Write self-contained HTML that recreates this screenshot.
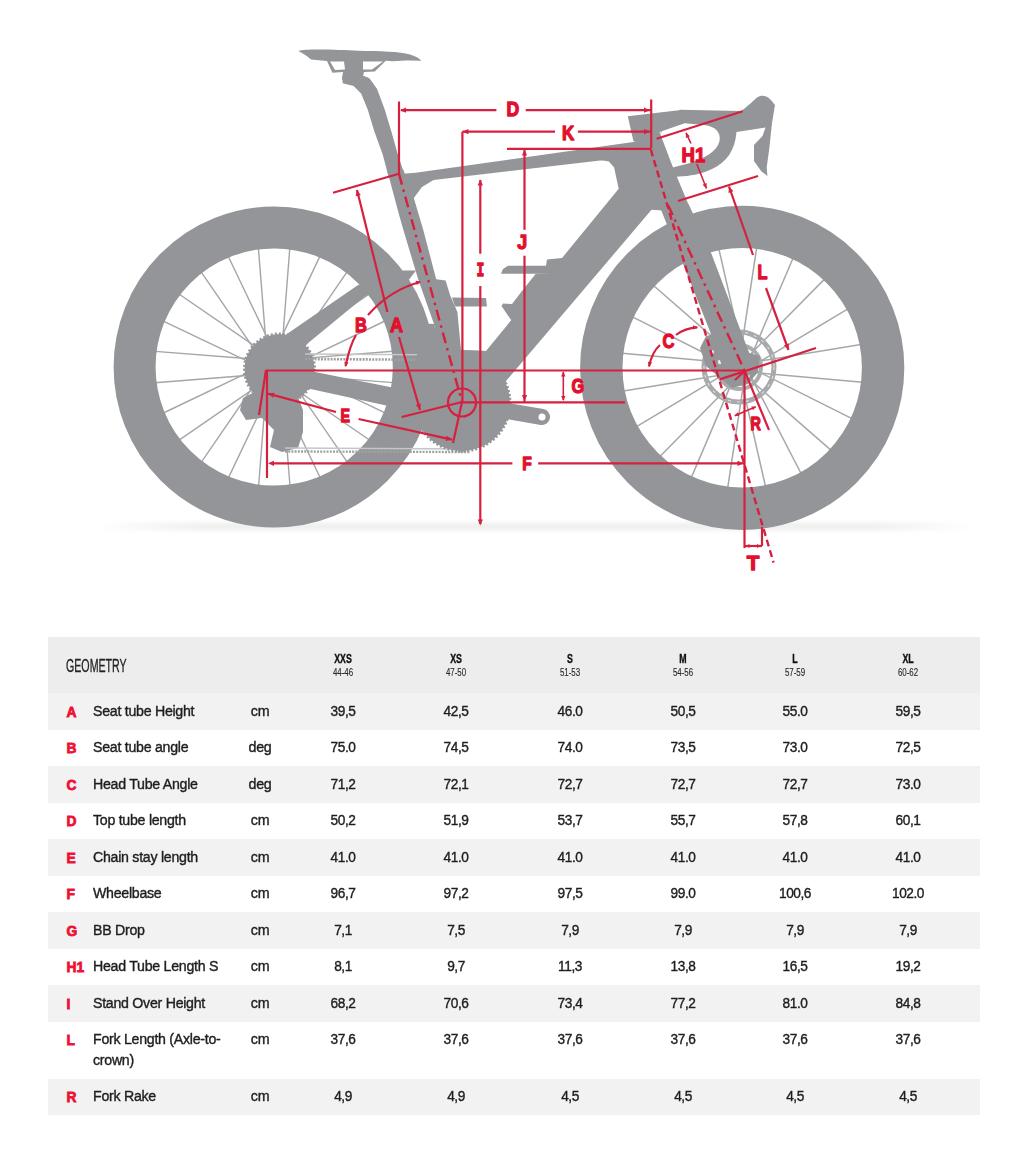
<!DOCTYPE html>
<html><head><meta charset="utf-8"><style>
html,body{margin:0;padding:0;background:#fff;width:1023px;height:1167px;overflow:hidden;position:relative}

.bg{position:absolute;left:48px;width:932.4px}
.geo{position:absolute;font:18.5px/20px "Liberation Sans",sans-serif;color:#222;transform:scaleX(0.575);transform-origin:0 0;white-space:nowrap;-webkit-text-stroke:0.3px #222}
.sz{position:absolute;width:100px;text-align:center;font:bold 13.5px/14px "Liberation Sans",sans-serif;color:#111;transform:scaleX(0.65);-webkit-text-stroke:0.4px #111}
.rg{position:absolute;width:100px;text-align:center;font:11.3px/12px "Liberation Sans",sans-serif;color:#2a2a2a;transform:scaleX(0.7);-webkit-text-stroke:0.15px #2a2a2a}
.ltr{position:absolute;left:66.5px;font:bold 13.8px/20px "Liberation Sans",sans-serif;color:#ee1133;-webkit-text-stroke:0.8px #ee1133}
.nm{position:absolute;left:93px;font:15.5px/21px "Liberation Sans",sans-serif;color:#1e1e1e;letter-spacing:-0.3px;white-space:nowrap;-webkit-text-stroke:0.4px #1e1e1e;transform:scaleX(0.915);transform-origin:0 0}
.un{position:absolute;left:209.5px;width:100px;text-align:center;font:15.5px/21px "Liberation Sans",sans-serif;color:#1e1e1e;letter-spacing:-0.3px;-webkit-text-stroke:0.4px #1e1e1e;transform:scaleX(0.92)}
.val{position:absolute;width:100px;text-align:center;font:15.2px/21px "Liberation Sans",sans-serif;color:#1e1e1e;letter-spacing:-0.5px;-webkit-text-stroke:0.4px #1e1e1e;transform:scaleX(0.9)}

</style></head><body>
<svg width="1023" height="620" viewBox="0 0 1023 620" style="position:absolute;left:0;top:0">
<defs><linearGradient id="gs" x1="0" x2="1"><stop offset="0" stop-color="#fff"/><stop offset="0.12" stop-color="#ededed"/><stop offset="0.88" stop-color="#ededed"/><stop offset="1" stop-color="#fff"/></linearGradient></defs>
<filter id="bl" x="-0.1" y="-2" width="1.2" height="5"><feGaussianBlur stdDeviation="2.5"/></filter>
<rect x="95" y="523" width="880" height="7" fill="url(#gs)" filter="url(#bl)"/>
<g stroke="#a3a5a8" stroke-width="1.4"><line x1="283.9" y1="374.1" x2="393.2" y2="382.6"/><line x1="286.1" y1="365.7" x2="385.1" y2="412.8"/><line x1="279.1" y1="378.0" x2="369.5" y2="440.0"/><line x1="285.2" y1="371.8" x2="347.3" y2="462.1"/><line x1="272.9" y1="378.9" x2="320.2" y2="477.8"/><line x1="281.3" y1="376.7" x2="290.0" y2="486.0"/><line x1="267.1" y1="376.7" x2="258.6" y2="486.0"/><line x1="275.5" y1="378.9" x2="228.4" y2="477.9"/><line x1="263.2" y1="371.9" x2="201.2" y2="462.3"/><line x1="269.4" y1="378.0" x2="179.1" y2="440.1"/><line x1="262.3" y1="365.7" x2="163.4" y2="413.0"/><line x1="264.5" y1="374.1" x2="155.2" y2="382.8"/><line x1="264.5" y1="359.9" x2="155.2" y2="351.4"/><line x1="262.3" y1="368.3" x2="163.3" y2="321.2"/><line x1="269.3" y1="356.0" x2="178.9" y2="294.0"/><line x1="263.2" y1="362.2" x2="201.1" y2="271.9"/><line x1="275.5" y1="355.1" x2="228.2" y2="256.2"/><line x1="267.1" y1="357.3" x2="258.4" y2="248.0"/><line x1="281.3" y1="357.3" x2="289.8" y2="248.0"/><line x1="272.9" y1="355.1" x2="320.0" y2="256.1"/><line x1="285.2" y1="362.1" x2="347.2" y2="271.7"/><line x1="279.0" y1="356.0" x2="369.3" y2="293.9"/><line x1="286.1" y1="368.3" x2="385.0" y2="321.0"/><line x1="283.9" y1="359.9" x2="393.2" y2="351.2"/></g>
<g stroke="#a5a7a9" stroke-width="1.5"><line x1="751.1" y1="372.3" x2="862.3" y2="382.3"/><line x1="752.2" y1="368.6" x2="852.0" y2="418.7"/><line x1="746.8" y1="376.7" x2="830.9" y2="450.1"/><line x1="749.8" y1="374.3" x2="801.1" y2="473.5"/><line x1="740.6" y1="377.7" x2="765.5" y2="486.5"/><line x1="744.5" y1="377.5" x2="727.7" y2="487.9"/><line x1="735.1" y1="374.9" x2="691.3" y2="477.6"/><line x1="738.3" y1="377.0" x2="659.9" y2="456.5"/><line x1="732.3" y1="369.4" x2="636.5" y2="426.7"/><line x1="733.6" y1="373.0" x2="623.5" y2="391.1"/><line x1="733.3" y1="363.3" x2="622.1" y2="353.3"/><line x1="732.2" y1="367.0" x2="632.4" y2="316.9"/><line x1="737.6" y1="358.9" x2="653.5" y2="285.5"/><line x1="734.6" y1="361.3" x2="683.3" y2="262.1"/><line x1="743.8" y1="357.9" x2="718.9" y2="249.1"/><line x1="739.9" y1="358.1" x2="756.7" y2="247.7"/><line x1="749.3" y1="360.7" x2="793.1" y2="258.0"/><line x1="746.1" y1="358.6" x2="824.5" y2="279.1"/><line x1="752.1" y1="366.2" x2="847.9" y2="308.9"/><line x1="750.8" y1="362.6" x2="860.9" y2="344.5"/></g>
<circle cx="274.2" cy="367.0" r="139.6" fill="none" stroke="#939598" stroke-width="42"/>
<circle cx="742.2" cy="367.8" r="140.9" fill="none" stroke="#939598" stroke-width="42.4"/>
<circle cx="739" cy="367" r="35" fill="none" stroke="#a7a9ab" stroke-width="5"/>
<circle cx="739" cy="367" r="35" fill="none" stroke="#fff" stroke-width="1.2" stroke-dasharray="3,6" opacity="0.6"/>
<circle cx="739" cy="367" r="22" fill="none" stroke="#a9abad" stroke-width="4"/>
<polygon fill="#939598" points="700.0,348.0 706.0,336.0 716.0,334.0 728.0,345.0 745.0,352.0 760.0,356.0 758.0,372.0 748.0,384.0 732.0,388.0 720.0,378.0 706.0,366.0"/>
<g fill="#fff" opacity="0.85"><circle cx="712" cy="352" r="2"/><circle cx="720" cy="362" r="2.2"/><circle cx="716" cy="343" r="1.5"/><circle cx="748" cy="376" r="1.8"/></g/>
<circle cx="279.5" cy="369" r="35" fill="#939598" stroke="#939598" stroke-width="3" stroke-dasharray="2,2"/>
<polygon fill="#939598" points="243.0,398.0 262.0,388.0 296.0,392.0 303.0,410.0 303.0,432.0 298.0,448.0 282.0,452.0 270.0,447.0 274.0,430.0 262.0,418.0 246.0,420.0 240.0,410.0"/>
<line x1="305" y1="354" x2="455" y2="355" stroke="#c4c6c8" stroke-width="1.6"/>
<line x1="305" y1="359" x2="455" y2="360" stroke="#9fa1a3" stroke-width="2.6" stroke-dasharray="2,1.2"/>
<line x1="285" y1="448" x2="470" y2="449" stroke="#c4c6c8" stroke-width="1.4"/>
<line x1="285" y1="451.5" x2="470" y2="452" stroke="#9fa1a3" stroke-width="2.4" stroke-dasharray="2,1.2"/>
<circle cx="462" cy="403" r="48" fill="#939598" stroke="#939598" stroke-width="3" stroke-dasharray="2,2"/>
<line x1="462" y1="403" x2="542" y2="417" stroke="#939598" stroke-width="16" stroke-linecap="round"/>
<circle cx="542" cy="417" r="3.5" fill="#fff"/>
<polygon fill="#939598" points="279.0,362.0 308.8,370.7 400.0,389.0 462.0,392.0 462.0,414.0 400.0,408.6 299.0,386.6 278.0,380.0"/>
<polygon fill="#939598" points="280.0,345.0 286.9,334.0 357.7,285.2 401.0,270.5 416.0,270.5 409.3,279.3 380.0,290.0 365.0,296.2 308.8,342.6 290.0,362.0"/>
<polygon fill="#939598" points="429.0,323.8 434.0,324.0 445.0,390.0 420.0,400.0 415.0,360.0"/>
<path fill="#939598" d="M298.5,51 C305,48.5 340,50 358,50.7 C380,51 400,51.5 410,54.5 C416,56.5 420,58.5 421.4,60.8 L410,60.5 C402,60.5 395,61.8 385.8,60.8 L374.8,71.5 L364,72 L363,76 L369.4,78.3 L345,84 L342,79 L343,72 L332.4,72.8 L327,61 L311,59.5 C308,57 306,55 298.5,51 Z"/>
<polygon fill="#fff" points="330.0,61.5 344.0,61.5 345.0,69.5 335.0,70.0"/>
<polygon fill="#fff" points="363.0,61.5 383.0,61.5 372.0,69.5 363.0,69.5"/>
<polygon fill="#939598" points="342.3,76.0 344.0,74.7 361.0,74.7 369.6,78.5 377.1,88.9 384.7,109.6 391.3,131.3 397.9,154.8 403.0,170.0 404.0,176.0 388.4,176.0 382.8,154.8 374.3,131.3 367.7,109.6 361.1,93.6 353.6,86.0 342.7,83.2"/>
<polygon fill="#939598" points="386.8,169.0 403.0,169.0 413.8,198.0 423.3,230.0 436.2,279.3 445.6,280.4 450.3,295.7 457.4,312.0 461.0,350.0 486.0,351.0 506.0,381.0 500.0,425.0 462.0,430.0 430.0,415.0 440.0,380.0 434.0,324.0 418.6,280.4 415.0,268.7 403.4,230.0 399.4,216.0"/>
<polygon fill="#939598" points="403.0,173.7 415.6,172.8 635.0,141.7 645.0,141.0 645.0,163.0 604.6,159.9 433.6,180.0 422.0,187.0 413.8,198.0 398.0,190.0"/>
<polygon fill="#939598" points="600.0,159.9 609.0,161.5 614.0,167.0 618.7,188.7 486.0,351.0 460.0,350.0 462.0,402.0 506.0,381.0 651.5,209.8 662.0,200.0 640.0,150.0"/>
<path fill="#939598" d="M680,109.8 L741,111 C746,108 752,102 757,97.5 C763,93.5 769,96 775,105 L772,123 L769.3,148.5 L766.7,167.6 L767.4,176 L761.5,171.4 L754,161 L754,145 L762.5,136 L765.5,127.5 L736.5,132 C735,150 727,162 712,169 C700,174.5 690,176 679,176.5 L665,178 L660,125 Z"/>
<path fill="#fff" d="M681.6,123 L704,125 C716,126.5 721,133 719.5,141 C717.5,151 705,158 690,163 L672.7,167.6 L660,138 L662.5,127 Z"/>
<polygon fill="#939598" points="627.8,116.2 681.0,110.0 684.0,123.5 659.5,132.0 672.6,166.4 692.0,213.0 656.0,210.0 651.5,209.8 614.0,167.0 609.0,161.5 635.0,141.7 633.4,141.0"/>
<polygon fill="#939598" points="657.0,200.0 688.5,204.0 710.0,250.0 741.0,331.4 752.0,360.0 748.0,378.0 722.0,366.0 710.0,331.4 684.0,266.3"/>
<polygon fill="#939598" points="501.0,273.8 503.0,269.0 508.0,265.8 546.0,265.8 547.0,259.5 562.0,258.0 563.0,270.0 548.0,273.8"/>
<polygon fill="#939598" points="452.0,297.6 486.0,298.0 487.0,306.5 455.0,306.5"/>
<polygon fill="#939598" points="551.0,273.0 535.6,274.0 522.0,291.0 512.0,304.0 503.0,303.5 501.5,306.0 511.0,320.0 516.0,318.0"/>
<g stroke="#d6203f" fill="none" stroke-linecap="butt"><line x1="399" y1="101.5" x2="399" y2="174" stroke-width="2.2"/><line x1="651.2" y1="99.5" x2="651.2" y2="148.5" stroke-width="2.2"/><line x1="401" y1="110.2" x2="496.4" y2="110.2" stroke-width="2.2"/><line x1="525.7" y1="110.2" x2="651" y2="110.2" stroke-width="2.2"/><line x1="462.4" y1="131.7" x2="555" y2="131.7" stroke-width="2.2"/><line x1="578" y1="131.7" x2="651" y2="131.7" stroke-width="2.2"/><line x1="462.4" y1="131.7" x2="462.4" y2="402" stroke-width="2.2"/><line x1="507" y1="148.8" x2="651" y2="148.8" stroke-width="2.2"/><line x1="524.5" y1="148.8" x2="524.5" y2="229.8" stroke-width="2.2"/><line x1="524.5" y1="255.7" x2="524.5" y2="402" stroke-width="2.2"/><line x1="480.3" y1="180" x2="480.3" y2="253.7" stroke-width="2.2"/><line x1="480.3" y1="286" x2="480.3" y2="524" stroke-width="2.2"/><line x1="333" y1="192.8" x2="399" y2="173.7" stroke-width="2.2"/><line x1="357" y1="190" x2="387.4" y2="312" stroke-width="2.2"/><line x1="399" y1="337" x2="420" y2="410" stroke-width="2.2"/><line x1="401.7" y1="417" x2="462" y2="402" stroke-width="2.2"/><line x1="266" y1="370.5" x2="745" y2="370.5" stroke-width="2.2"/><line x1="462" y1="402.3" x2="625" y2="402.3" stroke-width="2.2"/><line x1="563.3" y1="372" x2="563.3" y2="400" stroke-width="1.6"/><line x1="267" y1="370" x2="267" y2="478" stroke-width="2.2"/><line x1="272" y1="463.3" x2="512.4" y2="463.3" stroke-width="2.2"/><line x1="538.2" y1="463.3" x2="744" y2="463.3" stroke-width="2.2"/><line x1="744.5" y1="371" x2="744.5" y2="548" stroke-width="2.2"/><line x1="744" y1="546" x2="762" y2="546" stroke-width="2.2"/><line x1="762" y1="527" x2="762" y2="546" stroke-width="2.2"/><line x1="268" y1="393.6" x2="336" y2="412" stroke-width="2.2"/><line x1="358.6" y1="419" x2="452" y2="439.6" stroke-width="2.2"/><line x1="266" y1="370" x2="259" y2="415" stroke-width="2.2"/><line x1="462" y1="402" x2="453" y2="443" stroke-width="2.2"/><line x1="399" y1="174" x2="462" y2="402" stroke-width="2.4" stroke-dasharray="11,5,2.5,5"/><line x1="650.8" y1="149.6" x2="773.6" y2="562.7" stroke-width="2.4" stroke-dasharray="7,4"/><line x1="668" y1="205" x2="744.7" y2="371" stroke-width="2.4" stroke-dasharray="11,5,2.5,5"/><line x1="656.7" y1="138.7" x2="742.7" y2="111.3" stroke-width="2.2"/><line x1="686" y1="132.8" x2="691" y2="143.5" stroke-width="1.6"/><line x1="696.8" y1="164" x2="706.5" y2="188.5" stroke-width="1.6"/><line x1="678" y1="201" x2="758" y2="176" stroke-width="2.2"/><line x1="729" y1="186.5" x2="753" y2="255" stroke-width="2.2"/><line x1="766" y1="288" x2="788.5" y2="350" stroke-width="2.2"/><line x1="719.7" y1="379.4" x2="816" y2="348" stroke-width="2.2"/><line x1="744.7" y1="371" x2="769" y2="430" stroke-width="2.2"/><line x1="734.7" y1="415.7" x2="755.8" y2="406.8" stroke-width="1.6"/><line x1="735" y1="380" x2="744.7" y2="371" stroke-width="2.2"/></g>
<polygon fill="#d6203f" points="400.0,110.2 406.0,107.6 406.0,112.8"/><polygon fill="#d6203f" points="650.0,110.2 644.0,112.8 644.0,107.6"/><polygon fill="#d6203f" points="462.4,131.7 468.4,129.1 468.4,134.3"/><polygon fill="#d6203f" points="650.0,131.7 644.0,134.3 644.0,129.1"/><polygon fill="#d6203f" points="524.5,149.5 527.1,155.5 521.9,155.5"/><polygon fill="#d6203f" points="524.5,401.0 521.9,395.0 527.1,395.0"/><polygon fill="#d6203f" points="480.3,179.5 482.9,185.5 477.7,185.5"/><polygon fill="#d6203f" points="480.3,525.5 477.7,519.5 482.9,519.5"/><polygon fill="#d6203f" points="356.8,189.8 360.8,195.0 355.7,196.3"/><polygon fill="#d6203f" points="420.0,410.0 415.9,404.9 420.9,403.5"/><polygon fill="#d6203f" points="563.3,371.5 565.5,376.5 561.1,376.5"/><polygon fill="#d6203f" points="563.3,401.0 561.1,396.0 565.5,396.0"/><polygon fill="#d6203f" points="268.0,463.3 274.0,460.7 274.0,465.9"/><polygon fill="#d6203f" points="743.5,463.3 737.5,465.9 737.5,460.7"/><polygon fill="#d6203f" points="745.5,546.0 749.5,544.0 749.5,548.0"/><polygon fill="#d6203f" points="761.0,546.0 757.0,548.0 757.0,544.0"/><polygon fill="#d6203f" points="268.0,393.6 274.5,392.7 273.1,397.7"/><polygon fill="#d6203f" points="452.0,439.6 445.6,440.9 446.7,435.8"/><polygon fill="#d6203f" points="686.0,132.5 689.9,136.3 685.8,138.0"/><polygon fill="#d6203f" points="706.5,188.5 702.6,184.7 706.7,183.0"/><polygon fill="#d6203f" points="729.0,186.5 733.4,191.3 728.5,193.0"/><polygon fill="#d6203f" points="788.5,350.0 784.0,345.2 788.9,343.5"/><polygon fill="#d6203f" points="734.7,415.7 737.6,412.3 739.2,416.0"/><polygon fill="#d6203f" points="755.8,406.8 752.9,410.2 751.3,406.5"/>
<path d="M345.5,366 Q350,345 356,335" stroke="#d6203f" stroke-width="2.2" fill="none"/>
<path d="M368,315 Q390,290 420,282" stroke="#d6203f" stroke-width="2.2" fill="none"/>
<polygon fill="#d6203f" points="345.5,367.0 344.3,361.7 348.6,362.5"/>
<polygon fill="#d6203f" points="421.0,281.5 416.8,285.0 415.6,280.8"/>
<path d="M649,366.5 Q652,352 660,345" stroke="#d6203f" stroke-width="2.2" fill="none"/>
<path d="M676,335 Q685,328 697.4,327.4" stroke="#d6203f" stroke-width="2.2" fill="none"/>
<polygon fill="#d6203f" points="649.0,367.0 647.8,361.7 652.1,362.5"/>
<polygon fill="#d6203f" points="698.0,327.4 693.0,329.6 693.0,325.2"/>
<circle cx="462" cy="402.5" r="14" fill="none" stroke="#d6203f" stroke-width="2.2"/>
<g fill="#e2102e" stroke="#e2102e" stroke-width="1.3" stroke-linejoin="round" font-weight="bold"><text x="506.6" y="116.0" font-size="19.9" font-family="Liberation Sans" textLength="12.7" lengthAdjust="spacingAndGlyphs">D</text><text x="561.9" y="139.5" font-size="19.9" font-family="Liberation Sans" textLength="12.2" lengthAdjust="spacingAndGlyphs">K</text><text x="517.2" y="248.8" font-size="19.8" font-family="Liberation Sans" textLength="9.9" lengthAdjust="spacingAndGlyphs">J</text><text x="476.6" y="275.7" font-size="20.6" font-family="Liberation Mono" textLength="7.8" lengthAdjust="spacingAndGlyphs">I</text><text x="390.1" y="332.3" font-size="20.8" font-family="Liberation Sans" textLength="13.1" lengthAdjust="spacingAndGlyphs">A</text><text x="354.9" y="332.3" font-size="20.8" font-family="Liberation Sans" textLength="11.9" lengthAdjust="spacingAndGlyphs">B</text><text x="340.5" y="421.8" font-size="19.0" font-family="Liberation Sans" textLength="9.5" lengthAdjust="spacingAndGlyphs">E</text><text x="522.3" y="469.9" font-size="19.0" font-family="Liberation Sans" textLength="9.5" lengthAdjust="spacingAndGlyphs">F</text><text x="571.5" y="393.2" font-size="20.5" font-family="Liberation Sans" textLength="12.7" lengthAdjust="spacingAndGlyphs">G</text><text x="681.5" y="162.0" font-size="20.6" font-family="Liberation Sans" textLength="23.7" lengthAdjust="spacingAndGlyphs">H1</text><text x="757.5" y="278.5" font-size="20.3" font-family="Liberation Sans" textLength="10.0" lengthAdjust="spacingAndGlyphs">L</text><text x="662.5" y="347.5" font-size="20.3" font-family="Liberation Sans" textLength="12.0" lengthAdjust="spacingAndGlyphs">C</text><text x="750.5" y="430.0" font-size="18.2" font-family="Liberation Sans" textLength="10.4" lengthAdjust="spacingAndGlyphs">R</text><text x="746.8" y="569.5" font-size="20.9" font-family="Liberation Sans" textLength="12.6" lengthAdjust="spacingAndGlyphs">T</text></g>
</svg>
<div class="bg" style="top:636.6px;height:56.4px;background:#ededed"></div>
<div class="bg" style="top:693.0px;height:36.5px;background:#f2f2f2"></div>
<div class="bg" style="top:766.0px;height:36.5px;background:#f2f2f2"></div>
<div class="bg" style="top:839.0px;height:36.5px;background:#f2f2f2"></div>
<div class="bg" style="top:912.0px;height:36.5px;background:#f2f2f2"></div>
<div class="bg" style="top:985.0px;height:36.5px;background:#f2f2f2"></div>
<div class="bg" style="top:1078.5px;height:36.5px;background:#f2f2f2"></div>
<div class="geo" style="left:66px;top:656px">GEOMETRY</div>
<div class="sz" style="left:293.4px;top:652px">XXS</div>
<div class="rg" style="left:293.4px;top:666px">44-46</div>
<div class="sz" style="left:406.2px;top:652px">XS</div>
<div class="rg" style="left:406.2px;top:666px">47-50</div>
<div class="sz" style="left:519.5px;top:652px">S</div>
<div class="rg" style="left:519.5px;top:666px">51-53</div>
<div class="sz" style="left:632.5px;top:652px">M</div>
<div class="rg" style="left:632.5px;top:666px">54-56</div>
<div class="sz" style="left:745.4px;top:652px">L</div>
<div class="rg" style="left:745.4px;top:666px">57-59</div>
<div class="sz" style="left:858.4px;top:652px">XL</div>
<div class="rg" style="left:858.4px;top:666px">60-62</div>
<div class="ltr" style="top:702.5px">A</div>
<div class="nm" style="top:699.5px">Seat tube Height</div>
<div class="un" style="top:699.5px">cm</div>
<div class="val" style="left:293.4px;top:699.5px">39,5</div>
<div class="val" style="left:406.2px;top:699.5px">42,5</div>
<div class="val" style="left:519.5px;top:699.5px">46.0</div>
<div class="val" style="left:632.5px;top:699.5px">50,5</div>
<div class="val" style="left:745.4px;top:699.5px">55.0</div>
<div class="val" style="left:858.4px;top:699.5px">59,5</div>
<div class="ltr" style="top:739.0px">B</div>
<div class="nm" style="top:736.0px">Seat tube angle</div>
<div class="un" style="top:736.0px">deg</div>
<div class="val" style="left:293.4px;top:736.0px">75.0</div>
<div class="val" style="left:406.2px;top:736.0px">74,5</div>
<div class="val" style="left:519.5px;top:736.0px">74.0</div>
<div class="val" style="left:632.5px;top:736.0px">73,5</div>
<div class="val" style="left:745.4px;top:736.0px">73.0</div>
<div class="val" style="left:858.4px;top:736.0px">72,5</div>
<div class="ltr" style="top:775.5px">C</div>
<div class="nm" style="top:772.5px">Head Tube Angle</div>
<div class="un" style="top:772.5px">deg</div>
<div class="val" style="left:293.4px;top:772.5px">71,2</div>
<div class="val" style="left:406.2px;top:772.5px">72,1</div>
<div class="val" style="left:519.5px;top:772.5px">72,7</div>
<div class="val" style="left:632.5px;top:772.5px">72,7</div>
<div class="val" style="left:745.4px;top:772.5px">72,7</div>
<div class="val" style="left:858.4px;top:772.5px">73.0</div>
<div class="ltr" style="top:812.0px">D</div>
<div class="nm" style="top:809.0px">Top tube length</div>
<div class="un" style="top:809.0px">cm</div>
<div class="val" style="left:293.4px;top:809.0px">50,2</div>
<div class="val" style="left:406.2px;top:809.0px">51,9</div>
<div class="val" style="left:519.5px;top:809.0px">53,7</div>
<div class="val" style="left:632.5px;top:809.0px">55,7</div>
<div class="val" style="left:745.4px;top:809.0px">57,8</div>
<div class="val" style="left:858.4px;top:809.0px">60,1</div>
<div class="ltr" style="top:848.5px">E</div>
<div class="nm" style="top:845.5px">Chain stay length</div>
<div class="un" style="top:845.5px">cm</div>
<div class="val" style="left:293.4px;top:845.5px">41.0</div>
<div class="val" style="left:406.2px;top:845.5px">41.0</div>
<div class="val" style="left:519.5px;top:845.5px">41.0</div>
<div class="val" style="left:632.5px;top:845.5px">41.0</div>
<div class="val" style="left:745.4px;top:845.5px">41.0</div>
<div class="val" style="left:858.4px;top:845.5px">41.0</div>
<div class="ltr" style="top:885.0px">F</div>
<div class="nm" style="top:882.0px">Wheelbase</div>
<div class="un" style="top:882.0px">cm</div>
<div class="val" style="left:293.4px;top:882.0px">96,7</div>
<div class="val" style="left:406.2px;top:882.0px">97,2</div>
<div class="val" style="left:519.5px;top:882.0px">97,5</div>
<div class="val" style="left:632.5px;top:882.0px">99.0</div>
<div class="val" style="left:745.4px;top:882.0px">100,6</div>
<div class="val" style="left:858.4px;top:882.0px">102.0</div>
<div class="ltr" style="top:921.5px">G</div>
<div class="nm" style="top:918.5px">BB Drop</div>
<div class="un" style="top:918.5px">cm</div>
<div class="val" style="left:293.4px;top:918.5px">7,1</div>
<div class="val" style="left:406.2px;top:918.5px">7,5</div>
<div class="val" style="left:519.5px;top:918.5px">7,9</div>
<div class="val" style="left:632.5px;top:918.5px">7,9</div>
<div class="val" style="left:745.4px;top:918.5px">7,9</div>
<div class="val" style="left:858.4px;top:918.5px">7,9</div>
<div class="ltr" style="top:958.0px">H1</div>
<div class="nm" style="top:955.0px">Head Tube Length S</div>
<div class="un" style="top:955.0px">cm</div>
<div class="val" style="left:293.4px;top:955.0px">8,1</div>
<div class="val" style="left:406.2px;top:955.0px">9,7</div>
<div class="val" style="left:519.5px;top:955.0px">11,3</div>
<div class="val" style="left:632.5px;top:955.0px">13,8</div>
<div class="val" style="left:745.4px;top:955.0px">16,5</div>
<div class="val" style="left:858.4px;top:955.0px">19,2</div>
<div class="ltr" style="top:994.5px">I</div>
<div class="nm" style="top:991.5px">Stand Over Height</div>
<div class="un" style="top:991.5px">cm</div>
<div class="val" style="left:293.4px;top:991.5px">68,2</div>
<div class="val" style="left:406.2px;top:991.5px">70,6</div>
<div class="val" style="left:519.5px;top:991.5px">73,4</div>
<div class="val" style="left:632.5px;top:991.5px">77,2</div>
<div class="val" style="left:745.4px;top:991.5px">81.0</div>
<div class="val" style="left:858.4px;top:991.5px">84,8</div>
<div class="ltr" style="top:1031.0px">L</div>
<div class="nm" style="top:1028.0px">Fork Length (Axle-to-<br>crown)</div>
<div class="un" style="top:1028.0px">cm</div>
<div class="val" style="left:293.4px;top:1028.0px">37,6</div>
<div class="val" style="left:406.2px;top:1028.0px">37,6</div>
<div class="val" style="left:519.5px;top:1028.0px">37,6</div>
<div class="val" style="left:632.5px;top:1028.0px">37,6</div>
<div class="val" style="left:745.4px;top:1028.0px">37,6</div>
<div class="val" style="left:858.4px;top:1028.0px">37,6</div>
<div class="ltr" style="top:1088.0px">R</div>
<div class="nm" style="top:1085.0px">Fork Rake</div>
<div class="un" style="top:1085.0px">cm</div>
<div class="val" style="left:293.4px;top:1085.0px">4,9</div>
<div class="val" style="left:406.2px;top:1085.0px">4,9</div>
<div class="val" style="left:519.5px;top:1085.0px">4,5</div>
<div class="val" style="left:632.5px;top:1085.0px">4,5</div>
<div class="val" style="left:745.4px;top:1085.0px">4,5</div>
<div class="val" style="left:858.4px;top:1085.0px">4,5</div>
</body></html>
